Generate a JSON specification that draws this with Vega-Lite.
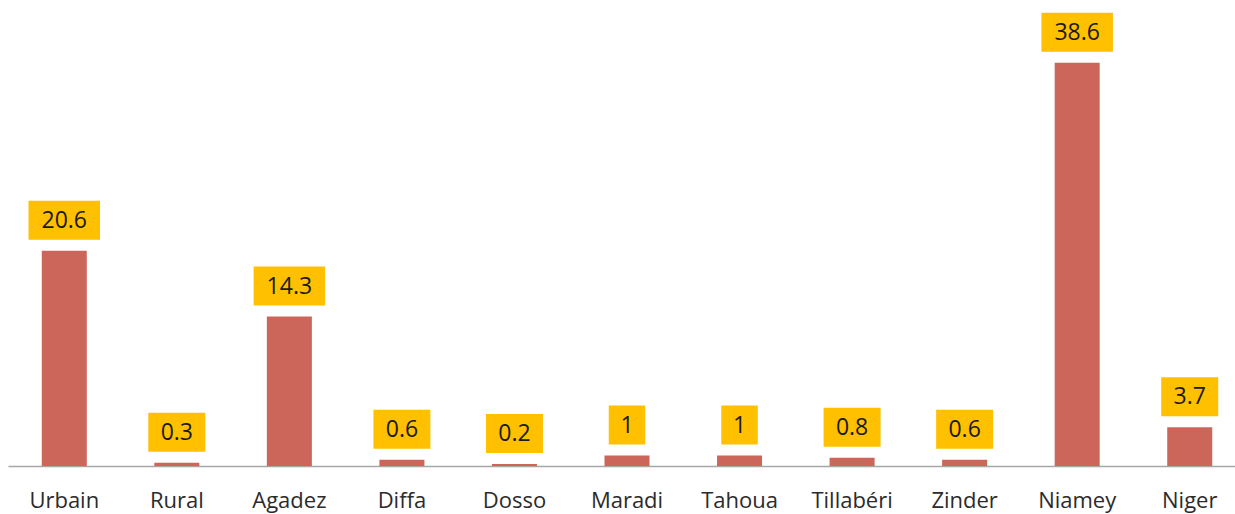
{
  "$schema": "https://vega.github.io/schema/vega-lite/v6.json",
  "autosize": {"type": "none"},
  "width": 1227,
  "height": 466,
  "padding": {"left": 8, "top": 0, "right": 0, "bottom": 48},
  "background": "white",
  "config": {"view": {"stroke": null}, "font": "Open Sans"},
  "data": {"values": [
    {"region": "Urbain", "value": 20.6},
    {"region": "Rural", "value": 0.3},
    {"region": "Agadez", "value": 14.3},
    {"region": "Diffa", "value": 0.6},
    {"region": "Dosso", "value": 0.2},
    {"region": "Maradi", "value": 1},
    {"region": "Tahoua", "value": 1},
    {"region": "Tillabéri", "value": 0.8},
    {"region": "Zinder", "value": 0.6},
    {"region": "Niamey", "value": 38.6},
    {"region": "Niger", "value": 3.7}
  ]},
  "transform": [
    {"calculate": "toString(datum.value)", "as": "lab"},
    {"calculate": "22 + 14.5*length(replace(datum.lab, '.', '')) + (indexof(datum.lab, '.') >= 0 ? 6 : 0)", "as": "boxw"}
  ],
  "encoding": {
    "x": {
      "field": "region", "type": "nominal", "sort": null,
      "scale": {"paddingInner": 0.6, "paddingOuter": 0.3, "range": [0, 1238]},
      "axis": {
        "title": null, "labelAngle": 0, "ticks": false,
        "domainColor": "#a6a6a6", "domainWidth": 1.3,
        "labelFont": "Open Sans", "labelFontSize": 22, "labelColor": "#2b2b2b",
        "labelBaseline": "alphabetic", "labelPadding": 41
      }
    }
  },
  "layer": [
    {
      "mark": {"type": "bar", "color": "#CC665A"},
      "encoding": {
        "y": {"field": "value", "type": "quantitative", "scale": {"domain": [0, 44.6], "nice": false}, "axis": null}
      }
    },
    {
      "mark": {"type": "bar", "color": "#FFC000", "yOffset": -11, "y2Offset": -50},
      "encoding": {
        "y": {"field": "value", "type": "quantitative"},
        "y2": {"field": "value"},
        "size": {"field": "boxw", "type": "quantitative", "scale": null, "legend": null}
      }
    },
    {
      "mark": {"type": "text", "font": "Open Sans", "fontSize": 23, "color": "#1a1a1a", "baseline": "middle", "dy": -30},
      "encoding": {
        "y": {"field": "value", "type": "quantitative"},
        "text": {"field": "lab"}
      }
    }
  ]
}
